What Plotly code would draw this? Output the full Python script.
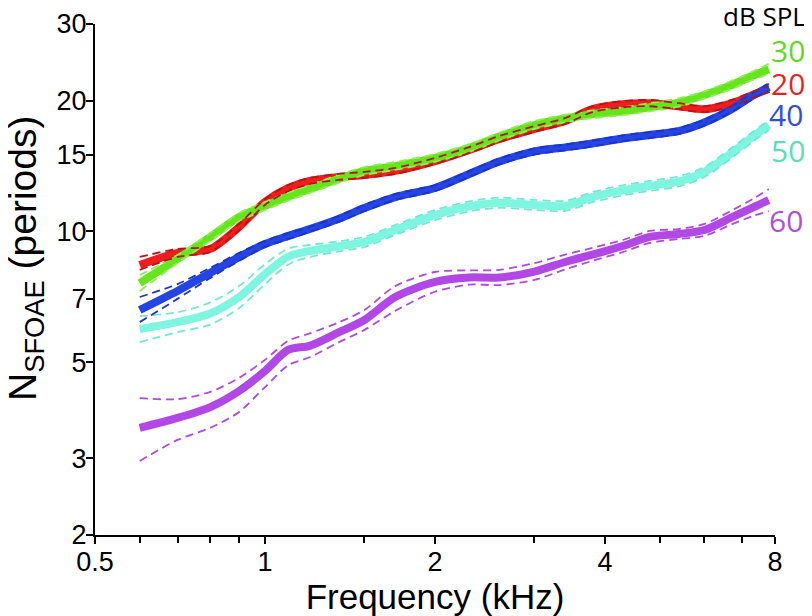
import math
import plotly.graph_objects as go

# ---------------- data ----------------
freq = [0.6, 0.7, 0.8, 0.9, 1.0, 1.1, 1.2, 1.35, 1.5, 1.7, 2.0, 2.3, 2.6,
        3.0, 3.4, 3.8, 4.3, 4.8, 5.4, 6.0, 6.7, 7.3, 7.8]

# 20 dB SPL
n20 = [8.36, 8.92, 9.11, 10.23, 11.68, 12.58, 13.06, 13.34, 13.48, 13.77, 14.51, 15.39,
       16.31, 17.2, 17.95, 19.1, 19.6, 19.7, 19.4, 19.1, 19.7, 20.6, 21.25]
n20_lo = [8.15, 8.73, 8.96, 10.07, 11.50, 12.38, 12.85, 13.13, 13.27, 13.55, 14.29, 15.15,
          16.04, 16.94, 17.66, 18.81, 19.29, 19.40, 19.10, 18.81, 19.40, 20.28, 20.94]
n20_hi = [8.73, 9.11, 9.25, 10.40, 11.86, 12.78, 13.27, 13.55, 13.70, 13.99, 14.75, 15.63,
          16.57, 17.46, 18.22, 19.40, 19.94, 20.06, 19.72, 19.40, 20.06, 20.94, 21.6]

# 30 dB SPL
n30 = [7.6, 8.64, 9.7, 10.79, 11.44, 12.02, 12.51, 13.2, 13.77, 14.13, 14.75, 15.55,
       16.53, 17.56, 18.18, 18.6, 18.9, 19.3, 19.78, 20.6, 21.7, 22.8, 23.6]
n30_lo = [7.29, 8.45, 9.50, 10.56, 11.19, 11.77, 12.25, 12.92, 13.48, 13.84, 14.44, 15.23,
          16.18, 17.20, 17.82, 18.22, 18.50, 18.89, 19.35, 20.22, 21.25, 22.3, 23.0]
n30_hi = [7.93, 8.82, 9.91, 11.02, 11.68, 12.28, 12.78, 13.48, 14.06, 14.44, 15.06, 15.87,
          16.88, 17.95, 18.55, 18.99, 19.29, 19.72, 20.23, 21.02, 22.2, 23.3, 24.3]

# 40 dB SPL
n40 = [6.59, 7.29, 8.02, 8.73, 9.35, 9.76, 10.12, 10.68, 11.31, 11.99, 12.58, 13.55,
       14.47, 15.27, 15.6, 15.93, 16.35, 16.66, 17.0, 17.8, 19.1, 20.5, 21.5]
n40_lo = [6.18, 6.99, 7.81, 8.55, 9.20, 9.60, 9.97, 10.51, 11.13, 11.80, 12.38, 13.34,
          14.25, 15.02, 15.35, 15.68, 16.13, 16.39, 16.75, 17.51, 18.81, 20.16, 21.10]
n40_hi = [7.06, 7.56, 8.24, 8.92, 9.50, 9.91, 10.23, 10.84, 11.50, 12.19, 12.78, 13.77,
          14.71, 15.51, 15.84, 16.18, 16.62, 16.92, 17.28, 18.08, 19.40, 20.82, 21.84]

# 50 dB SPL
n50 = [5.96, 6.18, 6.47, 7.06, 7.97, 8.75, 9.01, 9.23, 9.45, 10.07, 10.90, 11.41,
       11.64, 11.50, 11.44, 11.99, 12.42, 12.72, 13.02, 13.69, 15.14, 16.49, 17.56]
n50_lo = [5.56, 5.86, 6.10, 6.66, 7.56, 8.39, 8.73, 8.99, 9.20, 9.81, 10.61, 11.11,
          11.33, 11.20, 11.14, 11.67, 12.09, 12.39, 12.68, 13.33, 14.74, 16.06, 17.10]
n50_hi = [6.38, 6.51, 6.86, 7.48, 8.40, 9.13, 9.30, 9.48, 9.71, 10.34, 11.19, 11.72,
          11.95, 11.81, 11.75, 12.31, 12.76, 13.06, 13.37, 14.06, 15.55, 16.93, 18.03]

# 60 dB SPL
n60 = [3.53, 3.72, 3.94, 4.29, 4.77, 5.34, 5.45, 5.85, 6.25, 7.06, 7.65, 7.83,
       7.83, 8.08, 8.5, 8.84, 9.25, 9.71, 9.86, 10.07, 10.76, 11.34, 11.80]
n60_lo = [2.96, 3.31, 3.53, 3.84, 4.38, 4.92, 5.13, 5.55, 5.93, 6.56, 7.26, 7.54,
          7.52, 7.73, 8.17, 8.55, 8.96, 9.40, 9.60, 9.76, 10.37, 10.84, 11.13]
n60_hi = [4.13, 4.11, 4.27, 4.60, 5.06, 5.60, 5.82, 6.17, 6.59, 7.48, 8.06, 8.13,
          8.15, 8.45, 8.84, 9.16, 9.55, 10.02, 10.12, 10.40, 11.16, 11.86, 12.51]

x_ticks = [0.5, 1, 2, 4, 8]
x_ticktext = ["0.5", "1", "2", "4", "8"]
x_minor = [0.6, 0.7, 0.8, 0.9, 1.5, 3, 5, 6, 7]
y_ticks = [2, 3, 5, 7, 10, 15, 20, 30]
y_ticktext = ["2", "3", "5", "7", "10", "15", "20", "30"]

level_labels = ["30", "20", "40", "50", "60"]

# ---------------- styles ----------------
C20, C30, C40, C50, C60 = "#f11d1d", "#66e41c", "#2444e4", "#7ef5e0", "#b148e6"
D20, D30, D40, D50, D60 = "#b3151a", "#8df05a", "#1a34c4", "#6fe8d4", "#b148e6"
LABEL_COL = {"30": "#5fd91f", "20": "#ee1f1f", "40": "#2f4de2", "50": "#52e2b4", "60": "#b04ee2"}
LABEL_POS = {"30": (788, 50), "20": (788, 83), "40": (786, 114), "50": (788, 150), "60": (786, 220)}

# page offset caused by the default 8px body margin of the html page
OFF = 8
PAGE_W, PAGE_H = 812, 616
L, R, T, B = 95, 775, 24, 535          # plot area in page pixels
W, H = PAGE_W - OFF, PAGE_H - OFF

fig = go.Figure()

thick = [(n60, C60), (n50, C50), (n20, C20), (n40, C40), (n30, C30)]
for vals, col in thick:
    fig.add_trace(go.Scatter(x=freq, y=vals, mode="lines",
                             line=dict(color=col, width=8, shape="spline", smoothing=0.8),
                             hoverinfo="skip", showlegend=False))

bounds = [(n60_lo, n60_hi, D60), (n50_lo, n50_hi, D50), (n40_lo, n40_hi, D40),
          (n30_lo, n30_hi, D30), (n20_lo, n20_hi, D20)]
for lo, hi, col in bounds:
    for b in (lo, hi):
        fig.add_trace(go.Scatter(x=freq, y=b, mode="lines",
                                 line=dict(color=col, width=1.8, dash="8px,5px",
                                           shape="spline", smoothing=0.8),
                                 hoverinfo="skip", showlegend=False))

annotations = [dict(text="dB SPL", x=(764 - L) / (R - L), y=(B - 16) / (B - T),
                    xref="paper", yref="paper", showarrow=False,
                    xanchor="center", yanchor="middle",
                    font=dict(family="Open Sans", size=26, color="black"))]
for lab in level_labels:
    px, py = LABEL_POS[lab]
    annotations.append(dict(text=lab, x=(px - L) / (R - L), y=(B - py) / (B - T),
                            xref="paper", yref="paper", showarrow=False,
                            xanchor="center", yanchor="middle",
                            font=dict(family="Open Sans", size=30, color=LABEL_COL[lab])))

# y-axis title as a rotated annotation (placed like the reference)
annotations.append(dict(text="N<sub>SFOAE</sub>&nbsp;(periods)", textangle=-90,
                        x=(25 - L) / (R - L), y=(B - 259) / (B - T),
                        xref="paper", yref="paper", showarrow=False,
                        xanchor="center", yanchor="middle",
                        font=dict(family="Liberation Sans, Arial, sans-serif", size=39,
                                  color="black")))

fig.update_layout(
    width=W, height=H,
    margin=dict(l=L - OFF, r=PAGE_W - R, t=T - OFF, b=PAGE_H - B, autoexpand=False),
    paper_bgcolor="white", plot_bgcolor="white",
    showlegend=False,
    font=dict(family="Liberation Sans, Arial, sans-serif", color="black"),
    annotations=annotations,
)

fig.update_xaxes(
    type="log", range=[math.log10(0.5), math.log10(8)],
    tickmode="array", tickvals=x_ticks, ticktext=x_ticktext,
    ticks="outside", ticklen=7, tickwidth=2, tickcolor="black",
    showline=True, linewidth=2, linecolor="black",
    showgrid=False, zeroline=False,
    tickfont=dict(size=27, color="black"),
    ticklabelstandoff=-5,
    title=dict(text="Frequency (kHz)", font=dict(size=35, color="black"), standoff=2),
    minor=dict(tickmode="array", tickvals=x_minor, ticks="outside", ticklen=6,
               tickwidth=2, tickcolor="black", showgrid=False),
    automargin=False,
)
fig.update_yaxes(
    type="log", range=[math.log10(2), math.log10(30)],
    tickmode="array", tickvals=y_ticks, ticktext=y_ticktext,
    ticks="outside", ticklen=7, tickwidth=2, tickcolor="black",
    showline=True, linewidth=2, linecolor="black",
    showgrid=False, zeroline=False,
    tickfont=dict(size=27, color="black"),
    ticklabelstandoff=-6,
    automargin=False,
)

fig.write_html("out.html")
